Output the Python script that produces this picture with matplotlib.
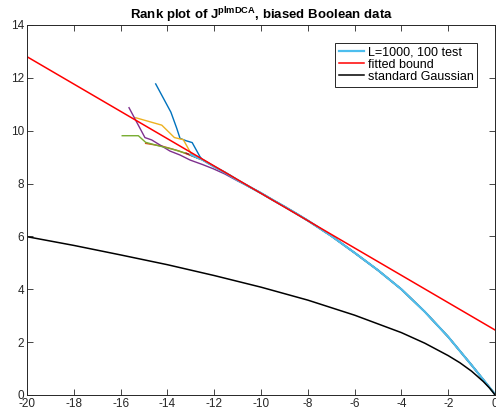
import matplotlib
matplotlib.use("Agg")
import numpy as np
import matplotlib.pyplot as plt

plt.rcParams["font.family"] = ["Liberation Sans", "DejaVu Sans"]
plt.rcParams["mathtext.fontset"] = "custom"
plt.rcParams["mathtext.rm"] = "Liberation Sans"
plt.rcParams["mathtext.bf"] = "Liberation Sans:bold"
plt.rcParams["axes.unicode_minus"] = False

# shared body of the test curves
common_x = [-12.5, -12, -11.5, -11, -10.5, -10, -9.5, -9, -8.5, -8,
            -7, -6, -5, -4, -3, -2, -1, -0.5, 0]
common_y = [8.9, 8.64, 8.4, 8.13, 7.88, 7.64, 7.38, 7.13, 6.87, 6.6,
            6.02, 5.38, 4.72, 4.0, 3.15, 2.2, 1.13, 0.58, 0.03]

# tails of the individual test curves
tail_blue_x = [-14.5, -13.85, -13.6, -13.46, -13.2, -12.94, -12.61]
tail_blue_y = [11.77, 10.7, 10.09, 9.71, 9.62, 9.55, 9.02]
tail_orange_x = [-14.93, -14.24, -13.53, -12.96]
tail_orange_y = [9.52, 9.42, 9.24, 9.05]
tail_yellow_x = [-15.35, -14.24, -13.7, -13.32, -12.99, -12.75]
tail_yellow_y = [10.49, 10.21, 9.74, 9.66, 9.14, 8.98]
tail_purple_x = [-15.64, -14.96, -14.67, -13.89, -13.46, -13.03, -12.5, -12.04, -11.54, -11.0]
tail_purple_y = [10.87, 9.74, 9.65, 9.23, 9.08, 8.89, 8.72, 8.56, 8.36, 8.1]
tail_green_x = [-15.93, -15.24, -14.93, -14.39, -13.82, -13.18, -12.75]
tail_green_y = [9.81, 9.81, 9.56, 9.43, 9.31, 9.14, 8.98]
tail_darkred_x = [-13.2, -12.8]
tail_darkred_y = [9.15, 9.0]
tail_cyan_x = [-13.0, -12.7]
tail_cyan_y = [9.1, 8.97]

bound_x = [-20, 0]
bound_y = [12.8, 2.46]

gauss_x = [-20, -18, -16, -14, -12, -10, -8, -6, -4, -3, -2, -1.5, -1,
           -0.5, -0.25, -0.1, 0]
gauss_y = [5.99, 5.66, 5.30, 4.93, 4.52, 4.08, 3.59, 3.02, 2.36, 1.96,
           1.49, 1.22, 0.90, 0.51, 0.28, 0.12, 0.0]


def join(tx, ty):
    cx = np.array(common_x)
    cy = np.array(common_y)
    keep = cx > tx[-1]
    return np.r_[tx, cx[keep]], np.r_[ty, cy[keep]]


fig = plt.figure(figsize=(4.96, 4.15), dpi=100)
ax = fig.add_axes([0.0544, 0.0482, 0.9436, 0.8916])

curves = [
    (tail_blue_x, tail_blue_y, "#0072BD"),
    (tail_orange_x, tail_orange_y, "#D95319"),
    (tail_yellow_x, tail_yellow_y, "#EDB120"),
    (tail_purple_x, tail_purple_y, "#7E2F8E"),
    (tail_green_x, tail_green_y, "#77AC30"),
    (tail_darkred_x, tail_darkred_y, "#A2142F"),
]
for tx, ty, c in curves:
    x, y = join(tx, ty)
    ax.plot(x, y, color=c, lw=1.0)

x, y = join(tail_cyan_x, tail_cyan_y)
h1, = ax.plot(x, y, color="#4DBEEE", lw=1.6, label="L=1000, 100 test")
h2, = ax.plot(bound_x, bound_y, color="red", lw=1.1, label="fitted bound")
h3, = ax.plot(gauss_x, gauss_y, color="black", lw=1.1, label="standard Gaussian")

ax.set_xlim(-20, 0)
ax.set_ylim(0, 14)
ax.set_xticks(range(-20, 1, 2))
ax.set_yticks(range(0, 15, 2))
ax.tick_params(direction="in", top=True, right=True, length=4, width=0.6,
               labelsize=8.5, colors="#262626", pad=2)
for s in ax.spines.values():
    s.set_color("#262626")
    s.set_linewidth(0.7)

ax.set_title(r"Rank plot of J$^{\mathbf{plmDCA}}$, biased Boolean data",
             fontsize=9.5, fontweight="bold", pad=4)

leg = ax.legend(handles=[h1, h2, h3], loc="upper right",
                bbox_to_anchor=(0.962, 0.951), borderaxespad=0,
                fancybox=False, edgecolor="#262626", framealpha=1,
                fontsize=9, handlelength=2.0, handletextpad=0.3,
                labelspacing=0.0, borderpad=0.3)
leg.get_frame().set_linewidth(0.7)

fig.savefig("out.png", dpi=100)
